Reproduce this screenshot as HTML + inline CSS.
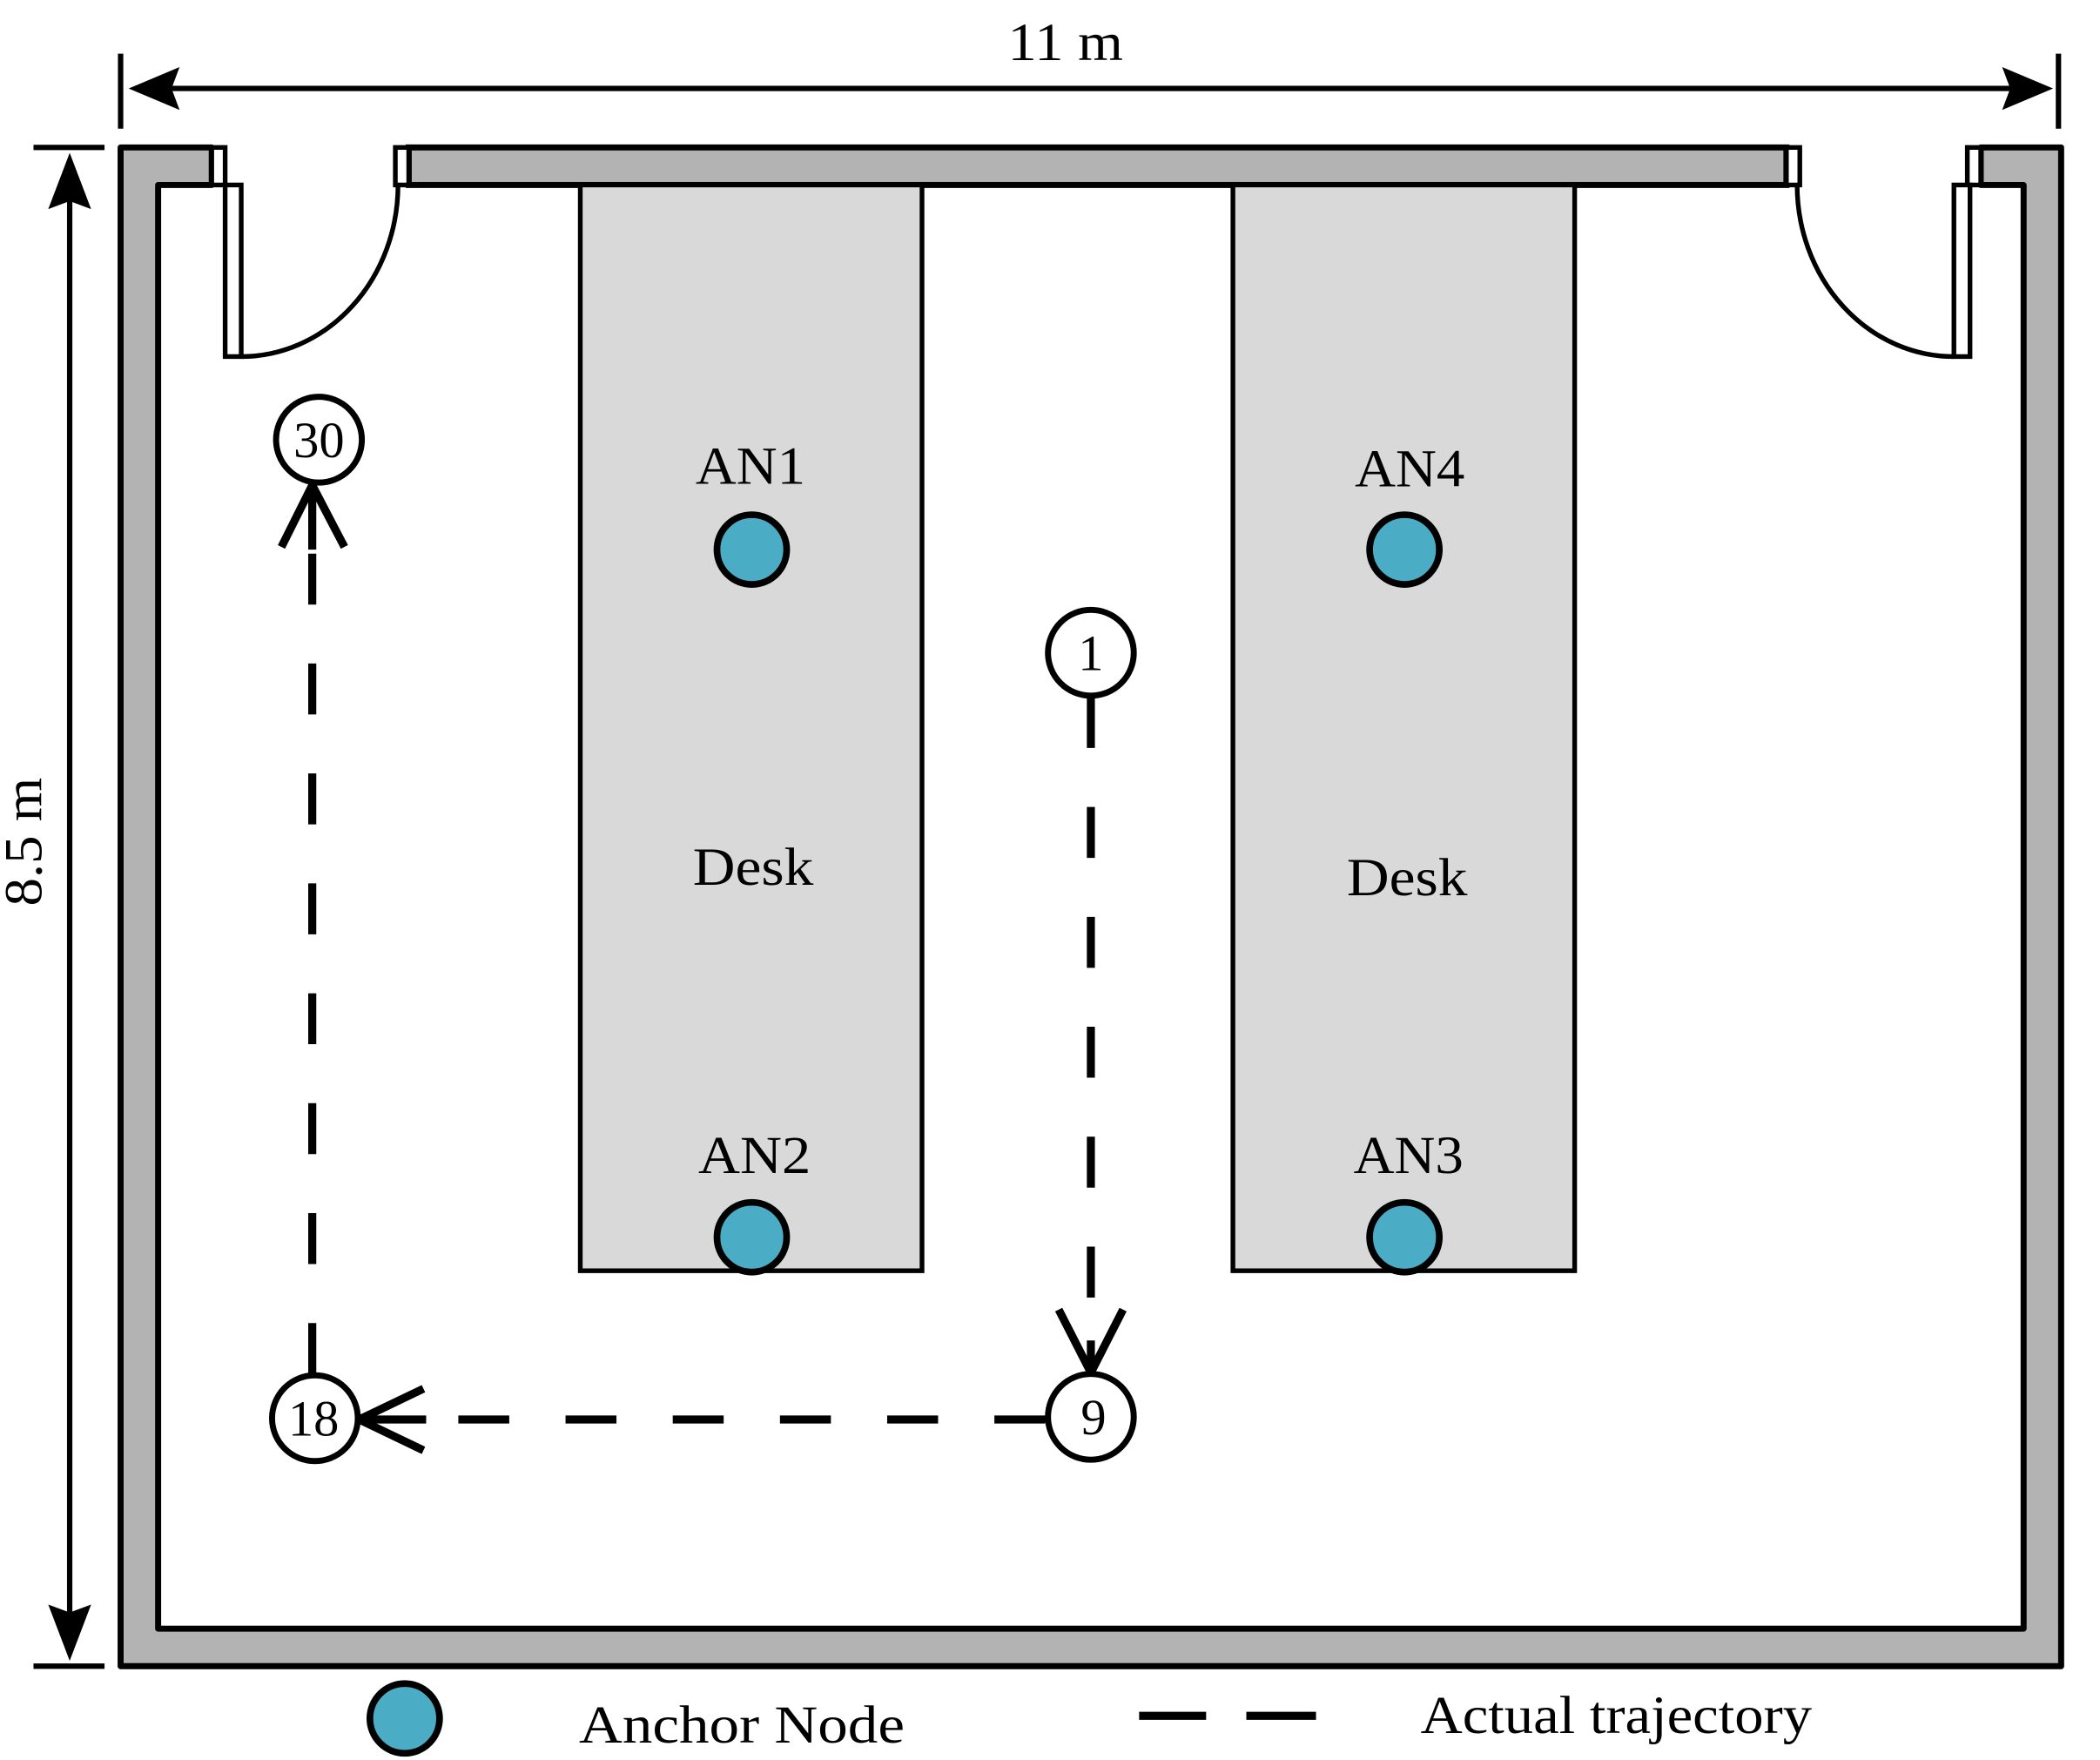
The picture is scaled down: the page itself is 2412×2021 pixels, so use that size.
<!DOCTYPE html>
<html><head><meta charset="utf-8"><style>
html,body{margin:0;padding:0;background:#fff;}
svg{display:block;}
text{font-family:"Liberation Serif",serif;fill:#000;}
</style></head><body>
<svg width="2412" height="2021" viewBox="0 0 1567 1313" preserveAspectRatio="none" xmlns="http://www.w3.org/2000/svg">
<path d="M90,110 H158 V138 H118 V1215 H1510 V138 H1478 V110 H1538 V1243 H90 Z" fill="#b3b3b3" stroke="#000" stroke-width="4.5" stroke-linejoin="round"/>
<rect x="305" y="110" width="1028" height="28" fill="#b3b3b3" stroke="#000" stroke-width="4.5"/>
<rect x="158" y="110" width="10" height="28" fill="#fff" stroke="#000" stroke-width="3.5"/>
<rect x="295" y="110" width="10" height="28" fill="#fff" stroke="#000" stroke-width="3.5"/>
<rect x="168" y="138" width="12" height="128" fill="#fff" stroke="#000" stroke-width="3.5"/>
<path d="M180,266 A117,128 0 0 0 297,138" fill="none" stroke="#000" stroke-width="3.5"/>
<rect x="1333" y="110" width="10" height="28" fill="#fff" stroke="#000" stroke-width="3.5"/>
<rect x="1468" y="110" width="10" height="28" fill="#fff" stroke="#000" stroke-width="3.5"/>
<rect x="1458" y="138" width="12" height="128" fill="#fff" stroke="#000" stroke-width="3.5"/>
<path d="M1458,266 A117,128 0 0 1 1341,138" fill="none" stroke="#000" stroke-width="3.5"/>
<rect x="433" y="138" width="255" height="810" fill="#d9d9d9" stroke="#000" stroke-width="3.5"/>
<rect x="920" y="138" width="255" height="810" fill="#d9d9d9" stroke="#000" stroke-width="3.5"/>
<text x="517" y="660" font-size="40" textLength="90" lengthAdjust="spacingAndGlyphs">Desk</text>
<text x="1005" y="668" font-size="40" textLength="90" lengthAdjust="spacingAndGlyphs">Desk</text>
<g fill="#4bacc6" stroke="#000" stroke-width="5">
<circle cx="561" cy="410" r="26"/><circle cx="1048" cy="410" r="26"/>
<circle cx="561" cy="923" r="26"/><circle cx="1048" cy="923" r="26"/>
<circle cx="302" cy="1282" r="26"/>
</g>
<g font-size="40">
<text x="519" y="361" textLength="82" lengthAdjust="spacingAndGlyphs">AN1</text>
<text x="1011" y="363" textLength="82" lengthAdjust="spacingAndGlyphs">AN4</text>
<text x="521" y="875" textLength="84" lengthAdjust="spacingAndGlyphs">AN2</text>
<text x="1010" y="875" textLength="82" lengthAdjust="spacingAndGlyphs">AN3</text>
</g>
<g stroke="#000" stroke-width="6" fill="none">
<line x1="814" y1="520" x2="814" y2="1000" stroke-dasharray="38,44"/>
<line x1="780" y1="1059" x2="320" y2="1059" stroke-dasharray="38,42"/>
<line x1="233" y1="1025" x2="233" y2="380" stroke-dasharray="38,44"/>
<polyline points="790,977 814,1024 838,977"/>
<line x1="814" y1="1000" x2="814" y2="1024"/>
<polyline points="316,1036 268,1059 316,1082"/>
<line x1="268" y1="1059" x2="318" y2="1059"/>
<polyline points="210,408 233,362 257,408"/>
<line x1="233" y1="362" x2="233" y2="410"/>
</g>
<g fill="#fff" stroke="#000" stroke-width="4.5">
<circle cx="238" cy="328" r="32"/><circle cx="814" cy="487" r="32"/>
<circle cx="814" cy="1057" r="32"/><circle cx="235" cy="1058" r="32"/>
</g>
<g font-size="38" text-anchor="middle">
<text x="238" y="341">30</text><text x="814" y="500">1</text>
<text x="816" y="1070">9</text><text x="234" y="1071">18</text>
</g>
<g stroke="#000" stroke-width="4">
<line x1="90" y1="40" x2="90" y2="96"/><line x1="1536" y1="40" x2="1536" y2="96"/>
<line x1="120" y1="66" x2="1506" y2="66"/>
<line x1="25" y1="110" x2="78" y2="110"/><line x1="25" y1="1243" x2="78" y2="1243"/>
<line x1="52" y1="140" x2="52" y2="1213"/>
</g>
<g fill="#000">
<polygon points="96,66 134,50 128,66 134,82"/>
<polygon points="1532,66 1494,50 1500,66 1494,82"/>
<polygon points="52,114 36,156 52,150 68,156"/>
<polygon points="52,1239 36,1197 52,1203 68,1197"/>
</g>
<text x="752" y="45" font-size="40" textLength="86" lengthAdjust="spacingAndGlyphs">11 m</text>
<text transform="translate(31,676) rotate(-90)" font-size="40" textLength="96" lengthAdjust="spacingAndGlyphs">8.5 m</text>
<text x="432" y="1300" font-size="40" textLength="243" lengthAdjust="spacingAndGlyphs">Anchor Node</text>
<g stroke="#000" stroke-width="6"><line x1="850" y1="1280" x2="900" y2="1280"/><line x1="930" y1="1280" x2="982" y2="1280"/></g>
<text x="1060" y="1293" font-size="40" textLength="292" lengthAdjust="spacingAndGlyphs">Actual trajectory</text>
</svg>
</body></html>
